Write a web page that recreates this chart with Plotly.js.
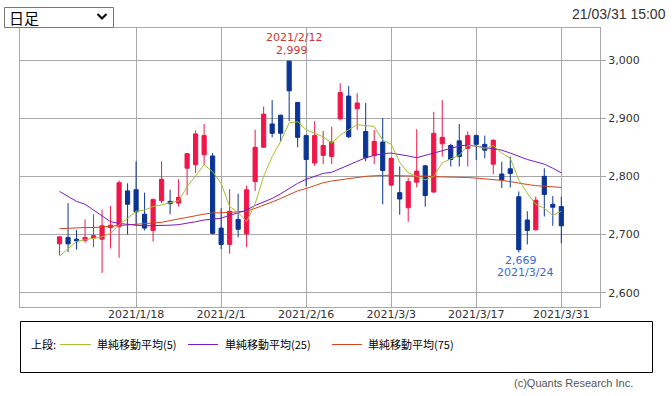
<!DOCTYPE html>
<html>
<head>
<meta charset="utf-8">
<script src="https://cdn.plot.ly/plotly-3.0.1.min.js"></script>
<style>
html,body{margin:0;padding:0;background:#fff;}
#chart{width:672px;height:396px;}
</style>
</head>
<body>
<div id="chart"></div>
<script>
const dates = [
 '2021-01-04','2021-01-05','2021-01-06','2021-01-07','2021-01-08','2021-01-12','2021-01-13','2021-01-14','2021-01-15',
 '2021-01-18','2021-01-19','2021-01-20','2021-01-21','2021-01-22','2021-01-25','2021-01-26','2021-01-27','2021-01-28','2021-01-29',
 '2021-02-01','2021-02-02','2021-02-03','2021-02-04','2021-02-05','2021-02-08','2021-02-09','2021-02-10','2021-02-12','2021-02-15',
 '2021-02-16','2021-02-17','2021-02-18','2021-02-19','2021-02-22','2021-02-24','2021-02-25','2021-02-26','2021-03-01','2021-03-02',
 '2021-03-03','2021-03-04','2021-03-05','2021-03-08','2021-03-09','2021-03-10','2021-03-11','2021-03-12','2021-03-15','2021-03-16',
 '2021-03-17','2021-03-18','2021-03-19','2021-03-22','2021-03-23','2021-03-24','2021-03-25','2021-03-26','2021-03-29','2021-03-30',
 '2021-03-31'];
const openP  = [2684,2695,2692,2690,2694,2692,2712,2714,2775,2777,2735,2707,2758,2757,2754,2814,2820,2837,2835,2711,
                2683,2726,2701,2791,2850,2890,2905,2998,2927,2870,2823,2836,2834,2899,2938,2916,2877,2836,2859,2785,
                2772,2746,2790,2818,2773,2856,2853,2861,2848,2870,2855,2821,2804,2813,2765,2725,2708,2800,2752,2748];
const highP  = [2697,2754,2708,2726,2735,2743,2749,2793,2788,2826,2772,2762,2826,2777,2795,2840,2879,2890,2840,2745,
                2778,2770,2784,2880,2920,2931,2906,2999,2928,2872,2895,2878,2885,2960,2955,2943,2926,2880,2900,2833,
                2817,2797,2881,2820,2911,2931,2856,2890,2877,2872,2870,2864,2825,2834,2774,2740,2765,2814,2766,2765];
const lowP   = [2664,2670,2674,2686,2678,2634,2676,2660,2700,2715,2707,2688,2754,2735,2748,2768,2806,2820,2700,2675,
                2667,2695,2678,2775,2849,2867,2860,2895,2850,2783,2818,2821,2821,2896,2866,2880,2826,2821,2752,2783,
                2734,2722,2781,2748,2772,2834,2817,2817,2817,2828,2831,2804,2780,2781,2669,2683,2707,2731,2715,2685];
const closeP = [2696,2684,2689,2695,2698,2715,2716,2789,2752,2739,2711,2760,2795,2753,2764,2839,2873,2870,2702,2683,
                2740,2709,2777,2850,2907,2874,2874,2947,2867,2829,2870,2853,2859,2944,2868,2926,2832,2860,2810,2831,
                2761,2791,2809,2767,2874,2867,2829,2834,2870,2855,2845,2862,2794,2805,2674,2707,2759,2769,2747,2715];
const ma5  = [2663,2675,2688,2691,2694,2696,2702,2717,2728,2740,2742,2748,2751,2754,2758,2782,2802,2820,2808,2788,
              2748,2738,2722,2753,2800,2834,2860,2892,2894,2880,2874,2868,2857,2871,2880,2889,2887,2886,2862,2855,
              2824,2806,2800,2794,2800,2823,2830,2836,2853,2852,2848,2853,2840,2831,2794,2771,2752,2745,2733,2740];
const ma25 = [2774,2765,2757,2752,2742,2731,2722,2719,2717,2716,2715,2715,2715,2716,2717,2719,2722,2725,2726,2728,
              2733,2738,2742,2750,2756,2762,2770,2779,2788,2795,2800,2805,2807,2813,2819,2826,2832,2836,2839,2840,
              2838,2835,2832,2836,2840,2845,2848,2852,2854,2852,2850,2847,2845,2840,2834,2829,2825,2821,2814,2806];
const ma75 = [2710,2711,2711,2712,2712,2713,2714,2715,2716,2717,2718,2719,2721,2724,2727,2730,2733,2735,2737,2737,
              2738,2739,2740,2745,2750,2756,2762,2768,2775,2779,2784,2789,2792,2794,2797,2799,2800,2801,2802,2802,
              2801,2801,2801,2800,2800,2799,2799,2799,2798,2797,2796,2795,2793,2791,2788,2786,2784,2783,2782,2781];
const tickDates  = ['2021-01-18','2021-02-01','2021-02-16','2021-03-03','2021-03-17','2021-03-31'];
const tickLabels = ['2021/1/18','2021/2/1','2021/2/16','2021/3/3','2021/3/17','2021/3/31'];
const yTicks = [2600,2700,2800,2900,3000];
const hiDate = '2021-02-12';
const loDate = '2021-03-24';
const maNames = ['単純移動平均(5)','単純移動平均(25)','単純移動平均(75)'];
const maColors = ['#a3c130','#7a1bc9','#d2461e'];
const upColor = '#f0164a', downColor = '#0b3593';

// pixel -> paper helpers (plot area x 20..600, y 28..307)
const L = 20, R = 72, T = 28, B = 89, W = 672 - L - R, H = 396 - T - B;
const PX = x => (x - L) / W;
const PY = y => (396 - B - y) / H;

const hiIdx = dates.indexOf(hiDate), loIdx = dates.indexOf(loDate);
const fmtDate = d => { const p = d.split('-'); return p[0] + '/' + (+p[1]) + '/' + (+p[2]); };
const fmtNum = v => v.toLocaleString('en-US');

const traces = [
  {type:'candlestick', x:dates, open:openP, high:highP, low:lowP, close:closeP,
   increasing:{line:{color:upColor,width:1}, fillcolor:upColor},
   decreasing:{line:{color:downColor,width:1}, fillcolor:downColor},
   whiskerwidth:0, hoverinfo:'skip', showlegend:false},
  {type:'scatter', mode:'lines', x:dates, y:ma75, line:{color:maColors[2],width:1}, hoverinfo:'skip', showlegend:false},
  {type:'scatter', mode:'lines', x:dates, y:ma25, line:{color:maColors[1],width:1}, hoverinfo:'skip', showlegend:false},
  {type:'scatter', mode:'lines', x:dates, y:ma5,  line:{color:maColors[0],width:1}, hoverinfo:'skip', showlegend:false}
];

const shapes = [
  {type:'rect', xref:'paper', yref:'paper', x0:PX(4.5), x1:PX(113.5), y0:PY(27.5), y1:PY(7.5),
   line:{color:'#777',width:1}, fillcolor:'#fff', layer:'above'},
  {type:'path', xref:'paper', yref:'paper',
   path:`M ${PX(97.5)} ${PY(14)} L ${PX(102)} ${PY(18.5)} L ${PX(106.5)} ${PY(14)}`,
   line:{color:'#111',width:2.2}},
  {type:'rect', xref:'paper', yref:'paper', x0:PX(20.5), x1:PX(652.5), y0:PY(372.5), y1:PY(321.5),
   line:{color:'#000',width:1}, fillcolor:'rgba(0,0,0,0)'},
  {type:'line', xref:'paper', yref:'paper', x0:PX(60), x1:PX(91), y0:PY(344.5), y1:PY(344.5), line:{color:maColors[0],width:1}},
  {type:'line', xref:'paper', yref:'paper', x0:PX(188), x1:PX(218), y0:PY(344.5), y1:PY(344.5), line:{color:maColors[1],width:1}},
  {type:'line', xref:'paper', yref:'paper', x0:PX(332), x1:PX(362), y0:PY(344.5), y1:PY(344.5), line:{color:maColors[2],width:1}}
];

const jp = 'Noto Sans CJK JP';
const annotations = [
  {xref:'paper', yref:'paper', x:PX(7), y:PY(17.5), text:'日足', showarrow:false, xanchor:'left', yanchor:'middle',
   font:{family:jp, size:15, color:'#000'}},
  {xref:'paper', yref:'paper', x:PX(668), y:PY(14), text:'21/03/31 15:00', showarrow:false, xanchor:'right', yanchor:'middle',
   font:{family:'Liberation Sans, Arial', size:14, color:'#333'}},
  {x:dates[hiIdx], y:highP[hiIdx], text:fmtDate(dates[hiIdx]), showarrow:false, yanchor:'middle', xshift:5, yshift:23.5,
   font:{family:'DejaVu Sans', size:11, color:'#c83a3a'}},
  {x:dates[hiIdx], y:highP[hiIdx], text:fmtNum(highP[hiIdx]), showarrow:false, yanchor:'middle', xshift:3, yshift:10.5,
   font:{family:'DejaVu Sans', size:11, color:'#c83a3a'}},
  {x:dates[loIdx], y:lowP[loIdx], text:fmtNum(lowP[loIdx]), showarrow:false, yanchor:'middle', xshift:2, yshift:-8,
   font:{family:'DejaVu Sans', size:11, color:'#3a6bd4'}},
  {x:dates[loIdx], y:lowP[loIdx], text:fmtDate(dates[loIdx]), showarrow:false, yanchor:'middle', xshift:6, yshift:-20,
   font:{family:'DejaVu Sans', size:11, color:'#3a6bd4'}},
  {xref:'paper', yref:'paper', x:PX(29), y:PY(344.5), text:'上段:', showarrow:false, xanchor:'left', yanchor:'middle',
   font:{family:jp, size:11, color:'#000'}},
  {xref:'paper', yref:'paper', x:PX(95), y:PY(344.5), text:maNames[0], showarrow:false, xanchor:'left', yanchor:'middle',
   font:{family:jp, size:11, color:'#000'}},
  {xref:'paper', yref:'paper', x:PX(223), y:PY(344.5), text:maNames[1], showarrow:false, xanchor:'left', yanchor:'middle',
   font:{family:jp, size:11, color:'#000'}},
  {xref:'paper', yref:'paper', x:PX(366), y:PY(344.5), text:maNames[2], showarrow:false, xanchor:'left', yanchor:'middle',
   font:{family:jp, size:11, color:'#000'}},
  {xref:'paper', yref:'paper', x:PX(635), y:PY(383), text:'(c)Quants Research Inc.', showarrow:false, xanchor:'right', yanchor:'middle',
   font:{family:'Liberation Sans, Arial', size:11, color:'#555'}}
];

const layout = {
  width:672, height:396,
  margin:{l:L, r:R, t:T, b:B, pad:0},
  paper_bgcolor:'#fff', plot_bgcolor:'#fff',
  showlegend:false,
  xaxis:{type:'category', range:[-4.65, 63.55], tickmode:'array', tickvals:tickDates, ticktext:tickLabels,
         showgrid:true, gridcolor:'#a8a8a8', gridwidth:1, ticks:'', ticklabelstandoff:-3,
         showline:true, mirror:true, linecolor:'#a8a8a8',
         linewidth:1, zeroline:false, rangeslider:{visible:false}, fixedrange:true,
         tickfont:{family:'DejaVu Sans', size:11, color:'#333'}},
  yaxis:{side:'right', range:[2575.4, 3055], tickmode:'array', tickvals:yTicks, tickformat:',d',
         showgrid:true, gridcolor:'#a8a8a8', gridwidth:1, ticks:'outside', ticklen:5, tickcolor:'#a8a8a8',
         showline:true, mirror:true, linecolor:'#a8a8a8', linewidth:1, zeroline:false, fixedrange:true,
         tickfont:{family:'DejaVu Sans', size:11, color:'#333'}},
  shapes:shapes,
  annotations:annotations
};

Plotly.newPlot('chart', traces, layout, {displayModeBar:false, staticPlot:true});
</script>
</body>
</html>
